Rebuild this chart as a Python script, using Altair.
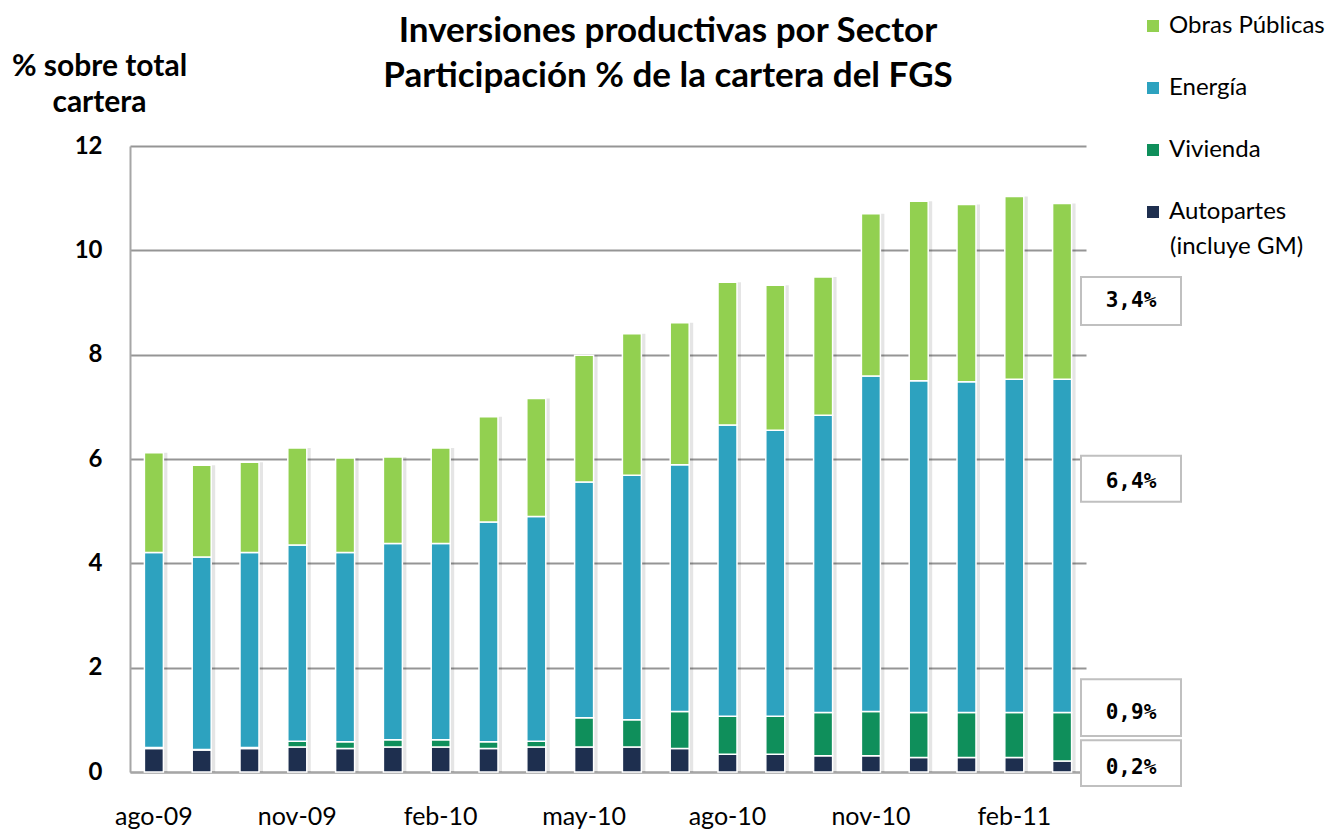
import altair as alt
import pandas as pd

months = ["ago-09", "sep-09", "oct-09", "nov-09", "dic-09", "ene-10", "feb-10",
          "mar-10", "abr-10", "may-10", "jun-10", "jul-10", "ago-10", "sep-10",
          "oct-10", "nov-10", "dic-10", "ene-11", "feb-11", "mar-11"]
tick_months = ["ago-09", "nov-09", "feb-10", "may-10", "ago-10", "nov-10", "feb-11"]

series = ["Obras Públicas", "Energía", "Vivienda", "Autopartes"]
colors = ["#92D050", "#2DA2BF", "#0F8F5B", "#1E2F4F"]

autopartes = [0.45, 0.42, 0.45, 0.48, 0.45, 0.48, 0.48, 0.45, 0.48, 0.48,
              0.48, 0.45, 0.34, 0.34, 0.31, 0.31, 0.28, 0.28, 0.28, 0.21]
vivienda = [0.02, 0.01, 0.02, 0.11, 0.13, 0.14, 0.14, 0.13, 0.11, 0.56,
            0.52, 0.71, 0.73, 0.73, 0.83, 0.85, 0.86, 0.86, 0.86, 0.93]
energia = [3.74, 3.69, 3.74, 3.76, 3.63, 3.76, 3.76, 4.21, 4.31, 4.52,
           4.69, 4.73, 5.58, 5.48, 5.70, 6.43, 6.36, 6.34, 6.39, 6.39]
obras = [1.91, 1.76, 1.73, 1.86, 1.81, 1.66, 1.83, 2.02, 2.26, 2.43,
         2.71, 2.72, 2.74, 2.78, 2.65, 3.11, 3.44, 3.40, 3.50, 3.37]

# annotation boxes for the last month (value shown, box bottom/top and text anchor in data units)
ann_values = [obras[-1], energia[-1], vivienda[-1], autopartes[-1]]
ann_box_lo = [8.57, 5.18, 0.69, -0.27]
ann_box_hi = [9.49, 6.06, 1.78, 0.61]
ann_text_y = [9.02, 5.55, 1.13, 0.08]

FONT = "Lato"

rows = []
for i, m in enumerate(months):
    for s, vals, o in [("Autopartes", autopartes, 0), ("Vivienda", vivienda, 1),
                       ("Energía", energia, 2), ("Obras Públicas", obras, 3)]:
        rows.append({"mes": m, "sector": s, "valor": vals[i], "orden": o})
df = pd.DataFrame(rows)

tot = pd.DataFrame({"mes": months,
                    "total": [a + b + c + d for a, b, c, d in zip(autopartes, vivienda, energia, obras)]})

ann = pd.DataFrame({
    "label": [f"{v:.1f}".replace(".", ",") + "%" for v in ann_values],
    "lo": ann_box_lo, "hi": ann_box_hi, "ty": ann_text_y,
})

xenc = alt.X("mes:N", sort=months,
             scale=alt.Scale(paddingInner=0, paddingOuter=0),
             axis=alt.Axis(values=tick_months, labelAngle=0, labelFont=FONT,
                           labelFontSize=25, labelColor="black", labelPadding=32,
                           ticks=False, domain=True, domainColor="#a6a6a6",
                           domainWidth=2, grid=False, title=None))
yscale = alt.Scale(domain=[0, 12], nice=False, zero=False)

shadow = alt.Chart(tot).mark_bar(width=19, color="#000000", opacity=0.10, xOffset=4).encode(
    x=xenc,
    y=alt.Y("total:Q", scale=yscale),
)

bars = alt.Chart(df).mark_bar(width=19, stroke="white", strokeWidth=1.5).encode(
    x=xenc,
    y=alt.Y("valor:Q", stack="zero", scale=yscale,
            axis=alt.Axis(values=[0, 2, 4, 6, 8, 10, 12], labelFont=FONT,
                          labelFontSize=24, labelFontWeight="bold", labelColor="black",
                          labelPadding=28, ticks=False, domain=True,
                          domainColor="#a6a6a6", domainWidth=2,
                          grid=True, gridColor="#959595", gridWidth=2,
                          title=["% sobre total", "cartera"], titleFont=FONT,
                          titleFontSize=30, titleFontWeight="bold", titleColor="black",
                          titleAngle=0, titleAlign="center", titleBaseline="top",
                          titleX=-31, titleY=-95, titleLineHeight=36)),
    color=alt.Color("sector:N", scale=alt.Scale(domain=series, range=colors),
                    legend=alt.Legend(title=None, orient="none", legendX=1011,
                                      legendY=-132, symbolType="square",
                                      symbolSize=144, symbolStrokeWidth=0,
                                      labelFont=FONT, labelFontSize=24,
                                      labelColor="black", labelOffset=4,
                                      labelLimit=300,
                                      rowPadding=38, padding=0)),
    order=alt.Order("orden:Q", sort="ascending"),
)

boxes = alt.Chart(ann).mark_rect(fill="white", stroke="#c0c0c0", strokeWidth=2).encode(
    x=alt.value(951), x2=alt.value(1051),
    y=alt.Y("lo:Q", scale=yscale), y2="hi:Q",
)
texts = alt.Chart(ann).mark_text(font="DejaVu Sans Mono", fontSize=21, fontWeight="bold",
                                 color="black", align="center", baseline="middle").encode(
    x=alt.value(1001), y=alt.Y("ty:Q", scale=yscale), text="label:N",
)
extra = alt.Chart(pd.DataFrame({"t": ["(incluye GM)"]})).mark_text(
    font=FONT, fontSize=24, color="black", align="left", baseline="middle").encode(
    x=alt.value(1040), y=alt.value(101), text="t:N")

chart = alt.layer(shadow, bars, boxes, texts, extra).properties(
    width=956, height=626,
    autosize=alt.AutoSizeParams(type="none"),
    padding={"left": 122, "top": 138, "right": 241, "bottom": 61},
    title=alt.TitleParams(text=["Inversiones productivas por Sector",
                                "Participación % de la cartera del FGS"],
                          font=FONT, fontSize=35, fontWeight="bold", color="black",
                          anchor="middle", frame="group", dx=60, offset=0, dy=80,
                          lineHeight=45),
).configure_view(stroke=None)

chart.save("out.html", embed_options={"renderer": "svg", "actions": False})
